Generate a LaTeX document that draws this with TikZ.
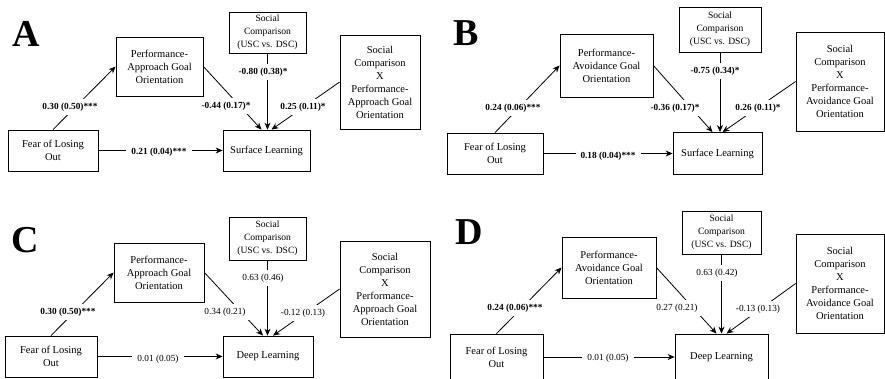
\documentclass[tikz,border=0pt]{standalone}
\usepackage{fontspec}
\setmainfont{Liberation Serif}
\usetikzlibrary{arrows.meta}
\tikzset{
  box/.style={draw, align=center, inner sep=2pt, font=\fontsize{10.5}{13}\selectfont},
  cbox/.style={box, font=\fontsize{9.6}{13}\selectfont},
  coef/.style={fill=white, inner xsep=5pt, inner ysep=4pt, font=\fontsize{9.3}{11}\selectfont},
  sig/.style={coef, font=\fontsize{9.3}{11}\selectfont\bfseries},
  panel/.style={inner sep=0pt, font=\fontsize{38}{38}\selectfont\bfseries},
}
\begin{document}
\begin{tikzpicture}[>={Stealth[length=7pt,width=6pt]}, x=1pt, y=-1pt, line width=0.8pt]
		\useasboundingbox (0,0) rectangle (885,378);
		
		% Panel A
		\node[panel] (A) at (26,34) {A};
		\node[box, minimum width=90pt, minimum height=41pt] (A1) at (53,150.5) {Fear of Losing\\Out};
		\node[box, minimum width=87pt, minimum height=59pt] (A2) at (159.5,66.5) {Performance-\\Approach Goal\\Orientation};
		\node[cbox, minimum width=77pt, minimum height=41pt] (A3) at (267.5,32.5) {Social\\Comparison\\(USC vs. DSC)};
		\node[box, minimum width=80pt, minimum height=94pt] (A4) at (380,82) {Social\\Comparison\\X\\Performance-\\Approach Goal\\Orientation};
		\node[box, minimum width=87pt, minimum height=41pt] (A5) at (266.5,150.5) {Surface Learning};
		
		\draw[->] (A1.north) -- (A2.west);
		\draw[->] (A1.east) -- (A5.west);
		\draw[->] (A2.east) -- ([xshift=-5pt]A5.north);
		\draw[->] (A3.south) -- (A3.south |- A5.north);
		\draw[->] (A4.west) -- ([xshift=5pt]A5.north);
		
		\node[sig] (a1) at (70,107) {0.30 (0.50)***};
		\node[sig] (a2) at (159,152) {0.21 (0.04)***};
		\node[sig] (a3) at (226,106) {-0.44 (0.17)*};
		\node[sig] (a4) at (263,72) {-0.80 (0.38)*};
		\node[sig] (a5) at (303,107) {0.25 (0.11)*};
		
		% Panel B
		\node[panel] (B) at (466,33) {B};
		\node[box, minimum width=96pt, minimum height=41pt] (B1) at (495,153.5) {Fear of Losing\\Out};
		\node[box, minimum width=93pt, minimum height=63pt] (B2) at (606.5,65.5) {Performance-\\Avoidance Goal\\Orientation};
		\node[cbox, minimum width=82pt, minimum height=45pt] (B3) at (720,29.5) {Social\\Comparison\\(USC vs. DSC)};
		\node[box, minimum width=88pt, minimum height=99pt] (B4) at (840,81.5) {Social\\Comparison\\X\\Performance-\\Avoidance Goal\\Orientation};
		\node[box, minimum width=89pt, minimum height=42pt] (B5) at (717.5,153.5) {Surface Learning};
		
		\draw[->] (B1.north) -- (B2.west);
		\draw[->] (B1.east) -- (B5.west);
		\draw[->] (B2.east) -- ([xshift=-5pt]B5.north);
		\draw[->] (B3.south) -- (B3.south |- B5.north);
		\draw[->] (B4.west) -- ([xshift=5pt]B5.north);
		
		\node[sig] (b1) at (513,108) {0.24 (0.06)***};
		\node[sig] (b2) at (608,156) {0.18 (0.04)***};
		\node[sig] (b3) at (675,108) {-0.36 (0.17)*};
		\node[sig] (b4) at (715,71) {-0.75 (0.34)*};
		\node[sig] (b5) at (758,108) {0.26 (0.11)*};
		
		% Panel C
		\node[panel] (C) at (25,240) {C};
		\node[box, minimum width=92pt, minimum height=41pt] (C1) at (51,356.5) {Fear of Losing\\Out};
		\node[box, minimum width=90pt, minimum height=59pt] (C2) at (159,272.5) {Performance-\\Approach Goal\\Orientation};
		\node[cbox, minimum width=77pt, minimum height=43pt] (C3) at (267.5,238.5) {Social\\Comparison\\(USC vs. DSC)};
		\node[box, minimum width=90pt, minimum height=96pt] (C4) at (385,289) {Social\\Comparison\\X\\Performance-\\Approach Goal\\Orientation};
		\node[box, minimum width=90pt, minimum height=41pt] (C5) at (268,356.5) {Deep Learning};
		
		\draw[->] (C1.north) -- (C2.west);
		\draw[->] (C1.east) -- (C5.west);
		\draw[->] (C2.east) -- ([xshift=-5pt]C5.north);
		\draw[->] (C3.south) -- (C3.south |- C5.north);
		\draw[->] (C4.west) -- ([xshift=5pt]C5.north);
		
		\node[sig] (c1) at (68,312) {0.30 (0.50)***};
		\node[coef] (c2) at (158,359) {0.01 (0.05)};
		\node[coef] (c3) at (225,312) {0.34 (0.21)};
		\node[coef] (c4) at (263,278) {0.63 (0.46)};
		\node[coef] (c5) at (303,313) {-0.12 (0.13)};
		
		% Panel D
		\node[panel] (D) at (469,232) {D};
		\node[box, minimum width=93pt, minimum height=46pt] (D1) at (496.5,357) {Fear of Losing\\Out};
		\node[box, minimum width=94pt, minimum height=61pt] (D2) at (609,267.5) {Performance-\\Avoidance Goal\\Orientation};
		\node[cbox, minimum width=79pt, minimum height=43pt] (D3) at (721.5,232.5) {Social\\Comparison\\(USC vs. DSC)};
		\node[box, minimum width=88pt, minimum height=99pt] (D4) at (840,283.5) {Social\\Comparison\\X\\Performance-\\Avoidance Goal\\Orientation};
		\node[box, minimum width=93pt, minimum height=46pt] (D5) at (721.5,357) {Deep Learning};
		
		\draw[->] (D1.north) -- (D2.west);
		\draw[->] (D1.east) -- (D5.west);
		\draw[->] (D2.east) -- ([xshift=-5pt]D5.north);
		\draw[->] (D3.south) -- (D3.south |- D5.north);
		\draw[->] (D4.west) -- ([xshift=5pt]D5.north);
		
		\node[sig] (d1) at (515,308) {0.24 (0.06)***};
		\node[coef] (d2) at (608,358) {0.01 (0.05)};
		\node[coef] (d3) at (677,308) {0.27 (0.21)};
		\node[coef] (d4) at (717,273) {0.63 (0.42)};
		\node[coef] (d5) at (758,309) {-0.13 (0.13)};
		
	\end{tikzpicture}
\end{document}
